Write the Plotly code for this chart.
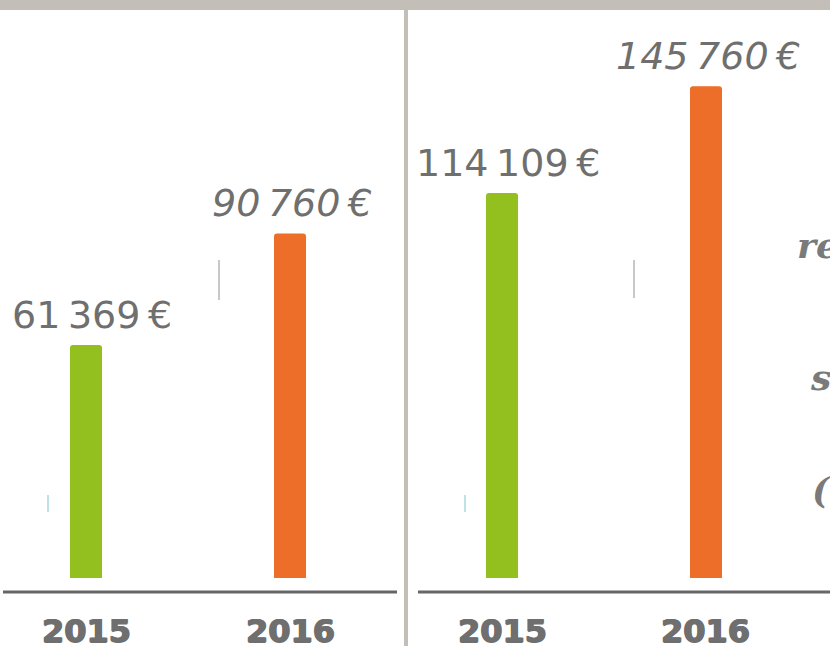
import plotly.graph_objects as go

# ---- data ----
years = ["2015", "2016"]
panel_left_values = [61369, 90760]
panel_right_values = [114109, 145760]
bar_colors = ["#93c01f", "#ec6e28"]
label_styles = ["normal", "italic"]

W, H = 830, 646
TEXT_GRAY = "#6f6f6f"
FRAME_GRAY = "#c3bfb8"


def fmt(v):
    s = f"{v:,}".replace(",", "\u202f")
    return s + "\u202f€"


fig = go.Figure()

fig.add_trace(go.Bar(x=[0, 1], y=panel_left_values, marker=dict(color=bar_colors, cornerradius=3, line=dict(width=0)),
                     width=0.157, xaxis="x", yaxis="y", hoverinfo="skip"))
fig.add_trace(go.Bar(x=[0, 1], y=panel_right_values, marker=dict(color=bar_colors, cornerradius=3, line=dict(width=0)),
                     width=0.157, xaxis="x2", yaxis="y2", hoverinfo="skip"))

y0 = 1 - 578 / H
y1 = 1 - 40 / H

fig.update_layout(
    width=W, height=H,
    margin=dict(l=0, r=0, t=0, b=0),
    paper_bgcolor="white", plot_bgcolor="rgba(0,0,0,0)",
    showlegend=False,
    xaxis=dict(domain=[4 / W, 392 / W], range=[-0.402, 1.5], visible=False, fixedrange=True),
    yaxis=dict(domain=[y0, y1], range=[0, 141690], visible=False, fixedrange=True),
    xaxis2=dict(domain=[418 / W, 1.0], range=[-0.412, 1.608], visible=False, fixedrange=True, anchor="y2"),
    yaxis2=dict(domain=[y0, y1], range=[0, 159500], visible=False, fixedrange=True, anchor="x2"),
)

annotations = []
for xa, ya, vals in [("x", "y", panel_left_values), ("x2", "y2", panel_right_values)]:
    for i, v in enumerate(vals):
        annotations.append(dict(
            x=i, y=v, xref=xa, yref=ya, text=fmt(v), showarrow=False,
            xanchor="center", yanchor="bottom", yshift=6, xshift=6 if i == 0 else 2,
            font=dict(family="DejaVu Sans", size=38, color=TEXT_GRAY, style=label_styles[i]),
        ))
        annotations.append(dict(
            x=i, y=1 - 631 / H, xref=xa, yref="paper", text=f"<b>{years[i]}</b>", showarrow=False,
            xanchor="center", yanchor="middle",
            font=dict(family="DejaVu Sans", size=32, color=TEXT_GRAY,
                      shadow="0.7px 0 0 #6f6f6f, -0.7px 0 0 #6f6f6f, 0 0.5px 0 #6f6f6f"),
        ))

# partially visible cursive text at right edge
for txt, xx, yy in [("re", 795, 245), ("s", 808, 377), ("(:", 810, 490)]:
    annotations.append(dict(
        x=xx / W, y=1 - yy / H, xref="paper", yref="paper", text=f"<i><b>{txt}</b></i>",
        showarrow=False, xanchor="left", yanchor="middle",
        font=dict(family="DejaVu Serif", size=36, color="#7a7a7a"),
    ))

fig.update_layout(annotations=annotations)

shapes = []
# top brushy frame
shapes.append(dict(type="rect", xref="paper", yref="paper", x0=0, x1=1, y0=1 - 10 / H, y1=1,
                   fillcolor=FRAME_GRAY, line=dict(width=0), layer="above"))
# vertical divider
shapes.append(dict(type="line", xref="paper", yref="paper", x0=406 / W, x1=406 / W, y0=0, y1=1,
                   line=dict(color=FRAME_GRAY, width=4), layer="above"))
# baselines
shapes.append(dict(type="line", xref="paper", yref="paper", x0=3 / W, x1=397 / W, y0=1 - 592 / H, y1=1 - 592 / H,
                   line=dict(color="#666666", width=3)))
shapes.append(dict(type="line", xref="paper", yref="paper", x0=418 / W, x1=1, y0=1 - 592 / H, y1=1 - 592 / H,
                   line=dict(color="#666666", width=3)))
# faint marks
for xx, ya, yb, col in [(219, 260, 300, "#c8c8c8"), (634, 260, 298, "#c8c8c8"),
                        (48, 495, 512, "#bfe3e3"), (465, 495, 512, "#bfe3e3")]:
    shapes.append(dict(type="line", xref="paper", yref="paper", x0=xx / W, x1=xx / W, y0=1 - ya / H, y1=1 - yb / H,
                       line=dict(color=col, width=2)))
fig.update_layout(shapes=shapes)

fig.write_html(
    "out.html",
    config={"displayModeBar": False},
    post_script="document.body.style.margin='0';document.body.style.overflow='hidden';",
)
